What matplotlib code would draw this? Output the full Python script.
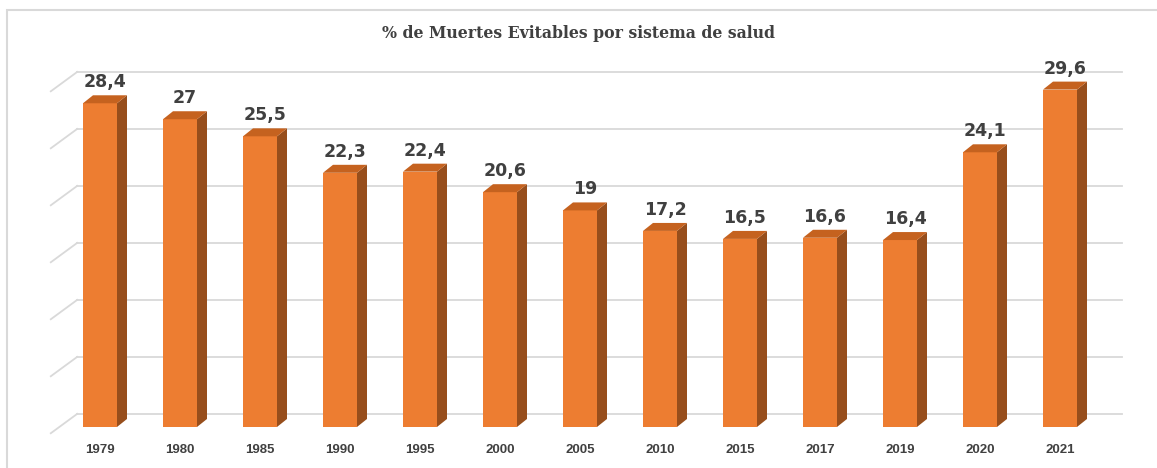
import matplotlib.pyplot as plt
from matplotlib.patches import Polygon, Rectangle

# datos
anios = ['1979', '1980', '1985', '1990', '1995', '2000', '2005', '2010',
         '2015', '2017', '2019', '2020', '2021']
valores = [28.4, 27, 25.5, 22.3, 22.4, 20.6, 19, 17.2, 16.5, 16.6, 16.4, 24.1, 29.6]
etiquetas = ['28,4', '27', '25,5', '22,3', '22,4', '20,6', '19', '17,2',
             '16,5', '16,6', '16,4', '24,1', '29,6']
grid_vals = [0, 5, 10, 15, 20, 25, 30]

c_front = '#ED7D31'
c_side = '#974E1C'
c_top = '#C5621F'
c_grid = '#D9D9D9'
c_txt = '#404040'

fig = plt.figure(figsize=(11.57, 4.68), dpi=100)
ax = fig.add_axes([0, 0, 1, 1])
# 80 px por categoria, 11.4 px por unidad
ax.set_xlim(-1.25, 13.2125)
ax.set_ylim(-3.6, 37.46)
ax.axis('off')

# marco del grafico
fig.patches.append(Rectangle((7 / 1157, -0.1), 1.2, 1 - 10 / 468 + 0.1,
                             transform=fig.transFigure, fill=False,
                             edgecolor=c_grid, lw=1.5))

w = 34 / 80      # ancho frente
dx = 10 / 80     # profundidad lateral
dy = 0.7         # profundidad superior
bx, by = 0.33, 1.15   # desplazamiento de la pared del fondo
gx0, gx1 = -0.285, 12.775

for g in grid_vals:
    ax.plot([gx0, gx1], [g + by, g + by], color=c_grid, lw=1.3, zorder=1)
    ax.plot([gx0 - bx, gx0], [g - 0.55, g + by], color=c_grid, lw=1.3, zorder=1)

for i, v in enumerate(valores):
    x0 = i - w / 2
    x1 = i + w / 2
    ax.add_patch(Rectangle((x0, 0), w, v, facecolor=c_front, edgecolor='none', zorder=3))
    ax.add_patch(Polygon([(x1, 0), (x1 + dx, dy), (x1 + dx, v + dy), (x1, v)],
                         closed=True, facecolor=c_side, edgecolor='none', zorder=3))
    ax.add_patch(Polygon([(x0, v), (x0 + dx, v + dy), (x1 + dx, v + dy), (x1, v)],
                         closed=True, facecolor=c_top, edgecolor='none', zorder=3))
    ax.text(i + dx / 2, v + dy + 0.35, etiquetas[i], ha='center', va='bottom',
            fontsize=12.5, fontweight='bold', family='DejaVu Sans',
            color=c_txt, zorder=4)
    ax.text(i, -2.0, anios[i], ha='center', va='center', fontsize=9.5,
            fontweight='bold', family='Liberation Sans', color=c_txt, zorder=4)

fig.text(0.5, 1 - 33 / 468, '% de Muertes Evitables por sistema de salud',
         ha='center', va='center', fontsize=11.3, fontweight='bold',
         family='DejaVu Serif', color=c_txt)

fig.savefig('out.png', dpi=100)
